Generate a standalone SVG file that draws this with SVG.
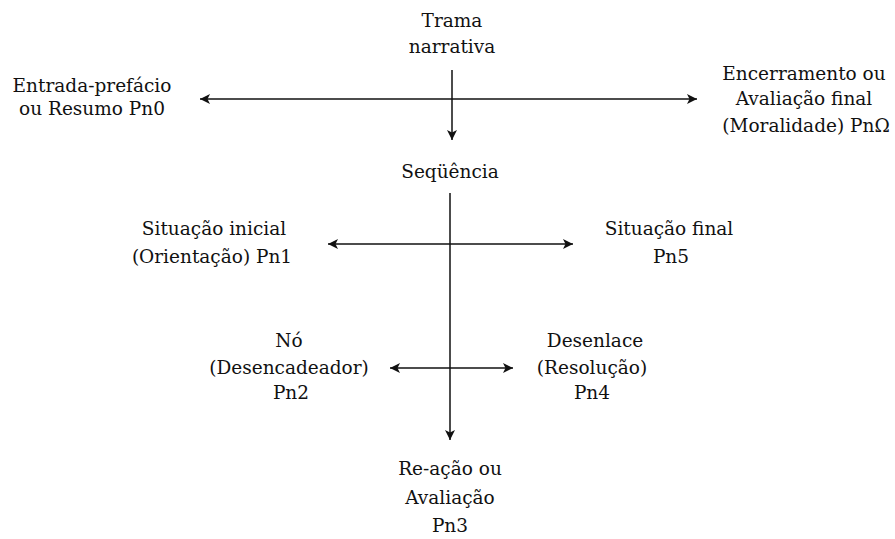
<svg xmlns="http://www.w3.org/2000/svg" width="895" height="539" viewBox="0 0 895 539">
<defs>
<style>
text{font-family:"DejaVu Serif","Liberation Serif",serif;font-size:18.5px;fill:#111;text-anchor:middle}
.c line{stroke:#111;stroke-width:1.5;fill:none}
</style>
<marker id="ah" viewBox="0 0 10 10" refX="10" refY="5" markerWidth="15" markerHeight="10" markerUnits="userSpaceOnUse" orient="auto-start-reverse">
<path d="M0,0 L10,5 L0,10 L2.5,5 Z" fill="#111"/>
</marker>
</defs>
<rect width="895" height="539" fill="#fff"/>
<g class="c" id="connectors">
<line x1="452" y1="70" x2="452" y2="140" marker-end="url(#ah)"/>
<line x1="200" y1="99" x2="697" y2="99" marker-start="url(#ah)" marker-end="url(#ah)"/>
<line x1="450" y1="193" x2="450" y2="440" marker-end="url(#ah)"/>
<line x1="328" y1="244" x2="573" y2="244" marker-start="url(#ah)" marker-end="url(#ah)"/>
<line x1="390" y1="368" x2="513" y2="368" marker-start="url(#ah)" marker-end="url(#ah)"/>
</g>
<g id="trama"><text x="452" y="27">Trama</text><text x="452" y="53">narrativa</text></g>
<g id="entrada"><text x="92" y="92">Entrada-prefácio</text><text x="92" y="115">ou Resumo Pn0</text></g>
<g id="encerramento"><text x="804" y="80">Encerramento ou</text><text x="804" y="105">Avaliação final</text><text x="806" y="132">(Moralidade) PnΩ</text></g>
<g id="sequencia"><text x="450" y="178">Seqüência</text></g>
<g id="situacao-inicial"><text x="214" y="235">Situação inicial</text><text x="212" y="263">(Orientação) Pn1</text></g>
<g id="situacao-final"><text x="669" y="235">Situação final</text><text x="671" y="263">Pn5</text></g>
<g id="no"><text x="289" y="347">Nó</text><text x="289" y="374">(Desencadeador)</text><text x="291" y="399">Pn2</text></g>
<g id="desenlace"><text x="595" y="347">Desenlace</text><text x="592" y="374">(Resolução)</text><text x="592" y="399">Pn4</text></g>
<g id="reacao"><text x="450" y="475">Re-ação ou</text><text x="450" y="504">Avaliação</text><text x="450" y="532">Pn3</text></g>
</svg>
